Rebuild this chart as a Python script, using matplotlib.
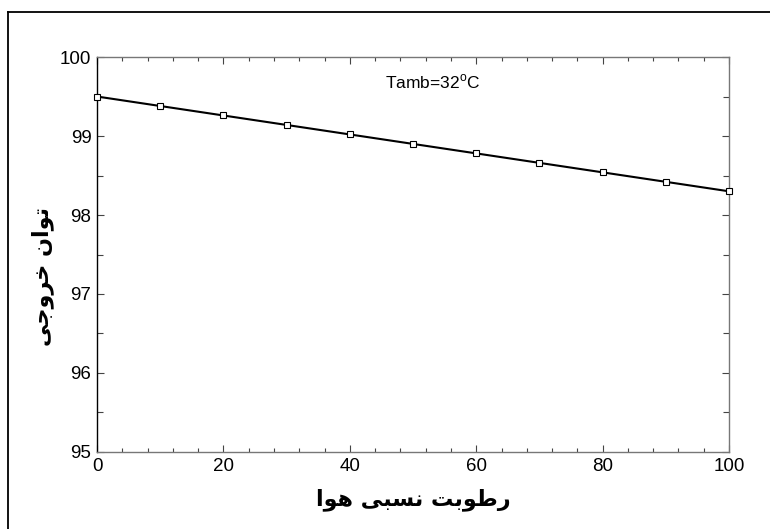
import numpy as np
import matplotlib.pyplot as plt
from matplotlib.lines import Line2D
from matplotlib.ticker import MultipleLocator

# relative humidity (%) and output power
humidity = [0, 10, 20, 30, 40, 50, 60, 70, 80, 90, 100]
power = [99.50, 99.38, 99.26, 99.14, 99.02, 98.90, 98.78, 98.66, 98.54, 98.42, 98.30]

x_ticks = [0, 20, 40, 60, 80, 100]
y_ticks = [95, 96, 97, 98, 99, 100]
note = "Tamb=32$^{\\rm o}$C"


def shaped(forms):
    # glyphs are given in presentation forms, logical order; matplotlib draws left to right
    return "".join(reversed(forms))


# رطوبت نسبی هوا
x_label = shaped("\uFEAD\uFEC3\uFEEE\uFE91\uFE96 \uFEE7\uFEB4\uFE92\uFBFD \uFEEB\uFEEE\uFE8D")
# توان خروجی
y_label = shaped("\uFE97\uFEEE\uFE8D\uFEE5 \uFEA7\uFEAE\uFEED\uFE9F\uFBFD")

plt.rcParams['font.family'] = ['Liberation Sans', 'DejaVu Sans']
plt.rcParams['mathtext.fontset'] = 'custom'
plt.rcParams['mathtext.rm'] = 'Liberation Sans'

fig = plt.figure(figsize=(7.7, 5.29), dpi=100)
ax = fig.add_axes([0.126, 0.1456, 0.8208, 0.7466])

ax.plot(humidity, power, color='black', lw=1.5, marker='s', markersize=5,
        markerfacecolor='white', markeredgecolor='black', markeredgewidth=0.8,
        clip_on=False, zorder=3)

ax.set_xlim(0, 100)
ax.set_ylim(95, 100)
ax.set_xticks(x_ticks)
ax.set_yticks(y_ticks)
ax.xaxis.set_minor_locator(MultipleLocator(4))
ax.yaxis.set_minor_locator(MultipleLocator(0.5))
ax.tick_params(which='both', direction='in', top=True, right=True,
               labelsize=13.5, pad=4, colors='#444444', labelcolor='black')
ax.tick_params(which='major', length=5, width=0.8)
ax.tick_params(which='minor', length=3, width=0.8)
ax.tick_params(axis='y', which='minor', length=4.5)

for side in ['top', 'right', 'bottom']:
    ax.spines[side].set_color('#777777')
    ax.spines[side].set_linewidth(1.0)
ax.spines['left'].set_color('black')
ax.spines['left'].set_linewidth(1.0)

ax.text(45.6, 99.68, note, fontsize=12.5, va='center', ha='left')

fig.text(0.537, 0.055, x_label, fontsize=16, fontweight='bold',
         family='DejaVu Sans', ha='center', va='center')
fig.text(0.055, 0.478, y_label, fontsize=16, fontweight='bold',
         family='DejaVu Sans', ha='center', va='center', rotation=90)

# outer frame, open on the right and bottom
fig.add_artist(Line2D([0.0104, 1.0], [0.977, 0.977], color='black', lw=1.3,
                      transform=fig.transFigure))
fig.add_artist(Line2D([0.0104, 0.0104], [0.0, 0.977], color='black', lw=1.3,
                      transform=fig.transFigure))

fig.savefig('out.png', dpi=100, facecolor='white')
